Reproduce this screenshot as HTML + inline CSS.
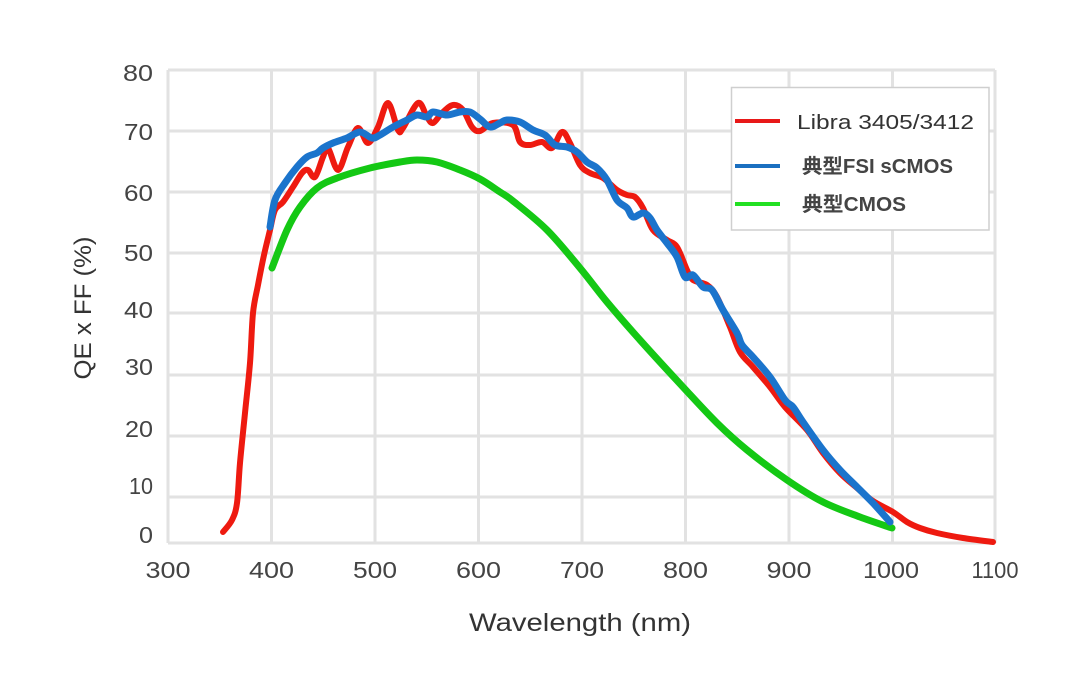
<!DOCTYPE html>
<html><head><meta charset="utf-8"><style>
html,body{margin:0;padding:0;background:#fff;}
svg{display:block;}
text{font-family:"Liberation Sans","Noto Sans CJK SC",sans-serif;}
</style></head><body>
<svg id="chart" width="1080" height="689" viewBox="0 0 1080 689" xmlns="http://www.w3.org/2000/svg">
<rect width="1080" height="689" fill="#fff"/>
<g stroke="#e2e2e2" stroke-width="3" fill="none">
<line x1="168" y1="70" x2="168" y2="543"/>
<line x1="271.5" y1="70" x2="271.5" y2="543"/>
<line x1="375" y1="70" x2="375" y2="543"/>
<line x1="478.5" y1="70" x2="478.5" y2="543"/>
<line x1="582" y1="70" x2="582" y2="543"/>
<line x1="685.5" y1="70" x2="685.5" y2="543"/>
<line x1="789" y1="70" x2="789" y2="543"/>
<line x1="892.5" y1="70" x2="892.5" y2="543"/>
<line x1="995" y1="70" x2="995" y2="543"/>
<line x1="168" y1="70" x2="995" y2="70"/>
<line x1="168" y1="131" x2="995" y2="131"/>
<line x1="168" y1="192" x2="995" y2="192"/>
<line x1="168" y1="253" x2="995" y2="253"/>
<line x1="168" y1="313" x2="995" y2="313"/>
<line x1="168" y1="375" x2="995" y2="375"/>
<line x1="168" y1="436" x2="995" y2="436"/>
<line x1="168" y1="497" x2="995" y2="497"/>
<line x1="168" y1="543" x2="995" y2="543"/>
</g>
<g font-size="23" fill="#444" text-anchor="end">
<text x="153" y="81" textLength="30" lengthAdjust="spacingAndGlyphs">80</text>
<text x="153" y="140" textLength="29" lengthAdjust="spacingAndGlyphs">70</text>
<text x="153" y="201" textLength="29" lengthAdjust="spacingAndGlyphs">60</text>
<text x="153" y="261" textLength="29" lengthAdjust="spacingAndGlyphs">50</text>
<text x="153" y="318" textLength="29" lengthAdjust="spacingAndGlyphs">40</text>
<text x="153" y="375" textLength="28" lengthAdjust="spacingAndGlyphs">30</text>
<text x="153" y="437" textLength="28" lengthAdjust="spacingAndGlyphs">20</text>
<text x="153" y="494" textLength="24" lengthAdjust="spacingAndGlyphs">10</text>
<text x="153" y="543" textLength="14" lengthAdjust="spacingAndGlyphs">0</text>
</g>
<g font-size="23" fill="#444" text-anchor="middle">
<text x="168" y="578" textLength="45" lengthAdjust="spacingAndGlyphs">300</text>
<text x="271.5" y="578" textLength="45" lengthAdjust="spacingAndGlyphs">400</text>
<text x="375" y="578" textLength="44" lengthAdjust="spacingAndGlyphs">500</text>
<text x="478.5" y="578" textLength="45" lengthAdjust="spacingAndGlyphs">600</text>
<text x="582" y="578" textLength="44" lengthAdjust="spacingAndGlyphs">700</text>
<text x="685.5" y="578" textLength="45" lengthAdjust="spacingAndGlyphs">800</text>
<text x="789" y="578" textLength="45" lengthAdjust="spacingAndGlyphs">900</text>
<text x="891" y="578" textLength="56" lengthAdjust="spacingAndGlyphs">1000</text>
<text x="995" y="578" textLength="47" lengthAdjust="spacingAndGlyphs">1100</text>
</g>
<text x="580" y="631" font-size="25" fill="#333" text-anchor="middle" textLength="222" lengthAdjust="spacingAndGlyphs">Wavelength (nm)</text>
<text transform="translate(91,308) rotate(-90)" font-size="24" fill="#333" text-anchor="middle" textLength="143" lengthAdjust="spacingAndGlyphs">QE x FF (%)</text>
<g fill="none" stroke-linejoin="round" stroke-linecap="round">
<polyline class="sm" stroke="#14c814" stroke-width="7" points="272,268 287,230 300,207 317,188 337,178 370,168 400,162 417,160 437,162 460,170 480,179 500,192 513,201 547,230 580,268 607,302 640,340 683,387 717,423 747,450 787,480 823,502 860,517 892,528"/>
<polyline class="sm" stroke="#ee1a10" stroke-width="6" points="223,532 232,520 237,503 240,463 245,413 250,363 253,313 258,285 264,255 270,230 275,210 283,202 293,187 302,173 308,170 315,177 323,157 328,148 338,170 348,147 358,128 368,143 378,127 388,103 398,130 403,128 418,103 427,117 433,123 442,113 453,105 463,110 472,127 480,131 493,123 513,125 520,142 530,145 542,142 552,148 562,132 570,143 580,165 590,173 603,178 617,190 627,195 635,197 643,208 653,230 667,240 677,247 687,270 693,280 707,285 717,297 730,327 740,352 753,367 770,387 785,407 807,430 823,453 840,473 857,488 873,501 893,512 907,522 920,528 937,533 963,538 993,542"/>
<polyline class="sm" stroke="#1b74cc" stroke-width="7" points="270,227 275,200 285,183 297,167 307,157 317,153 323,148 333,143 347,138 360,132 372,138 380,135 393,127 407,120 417,115 427,117 433,112 447,115 460,112 470,112 480,119 490,127 500,123 507,120 520,122 533,130 545,135 555,145 567,147 577,152 587,162 597,168 607,180 617,200 627,208 633,217 643,213 650,218 657,230 667,243 677,257 685,277 693,275 703,287 712,290 723,310 737,333 742,345 753,357 770,377 785,400 793,407 803,422 823,450 840,470 857,487 873,503 890,522"/>
</g>
<rect x="731.5" y="87.5" width="257.5" height="142.5" fill="#fff" stroke="#cfcfcf" stroke-width="1.5"/>
<line x1="735" y1="121" x2="780" y2="121" stroke="#e81818" stroke-width="4"/>
<line x1="735" y1="166" x2="780" y2="166" stroke="#1a6fc0" stroke-width="4"/>
<line x1="735" y1="204" x2="780" y2="204" stroke="#22e022" stroke-width="4"/>
<text x="797" y="129" font-size="20" fill="#333" textLength="177" lengthAdjust="spacingAndGlyphs">Libra 3405/3412</text>
<text x="802" y="173" font-size="20" font-weight="bold" fill="#444" textLength="151" lengthAdjust="spacingAndGlyphs">典型FSI sCMOS</text>
<text x="802" y="211" font-size="20" font-weight="bold" fill="#444" textLength="104" lengthAdjust="spacingAndGlyphs">典型CMOS</text>
</svg>
<script>
(function(){
  var ns="http://www.w3.org/2000/svg";
  var pls=document.querySelectorAll("polyline.sm");
  for(var k=0;k<pls.length;k++){
    var pl=pls[k];
    var pts=pl.getAttribute("points").trim().split(/\s+/).map(function(s){var a=s.split(",");return [parseFloat(a[0]),parseFloat(a[1])];});
    var d="M"+pts[0][0]+","+pts[0][1];
    for(var i=0;i<pts.length-1;i++){
      var p0=pts[i>0?i-1:i],p1=pts[i],p2=pts[i+1],p3=pts[i+2<pts.length?i+2:i+1];
      var c1x=p1[0]+(p2[0]-p0[0])/6,c1y=p1[1]+(p2[1]-p0[1])/6;
      var c2x=p2[0]-(p3[0]-p1[0])/6,c2y=p2[1]-(p3[1]-p1[1])/6;
      d+=" C"+c1x.toFixed(2)+","+c1y.toFixed(2)+" "+c2x.toFixed(2)+","+c2y.toFixed(2)+" "+p2[0]+","+p2[1];
    }
    var p=document.createElementNS(ns,"path");
    p.setAttribute("d",d);
    p.setAttribute("stroke",pl.getAttribute("stroke"));
    p.setAttribute("stroke-width",pl.getAttribute("stroke-width"));
    p.setAttribute("fill","none");
    p.setAttribute("stroke-linejoin","round");
    p.setAttribute("stroke-linecap","round");
    pl.parentNode.replaceChild(p,pl);
  }
})();
</script>
</body></html>
